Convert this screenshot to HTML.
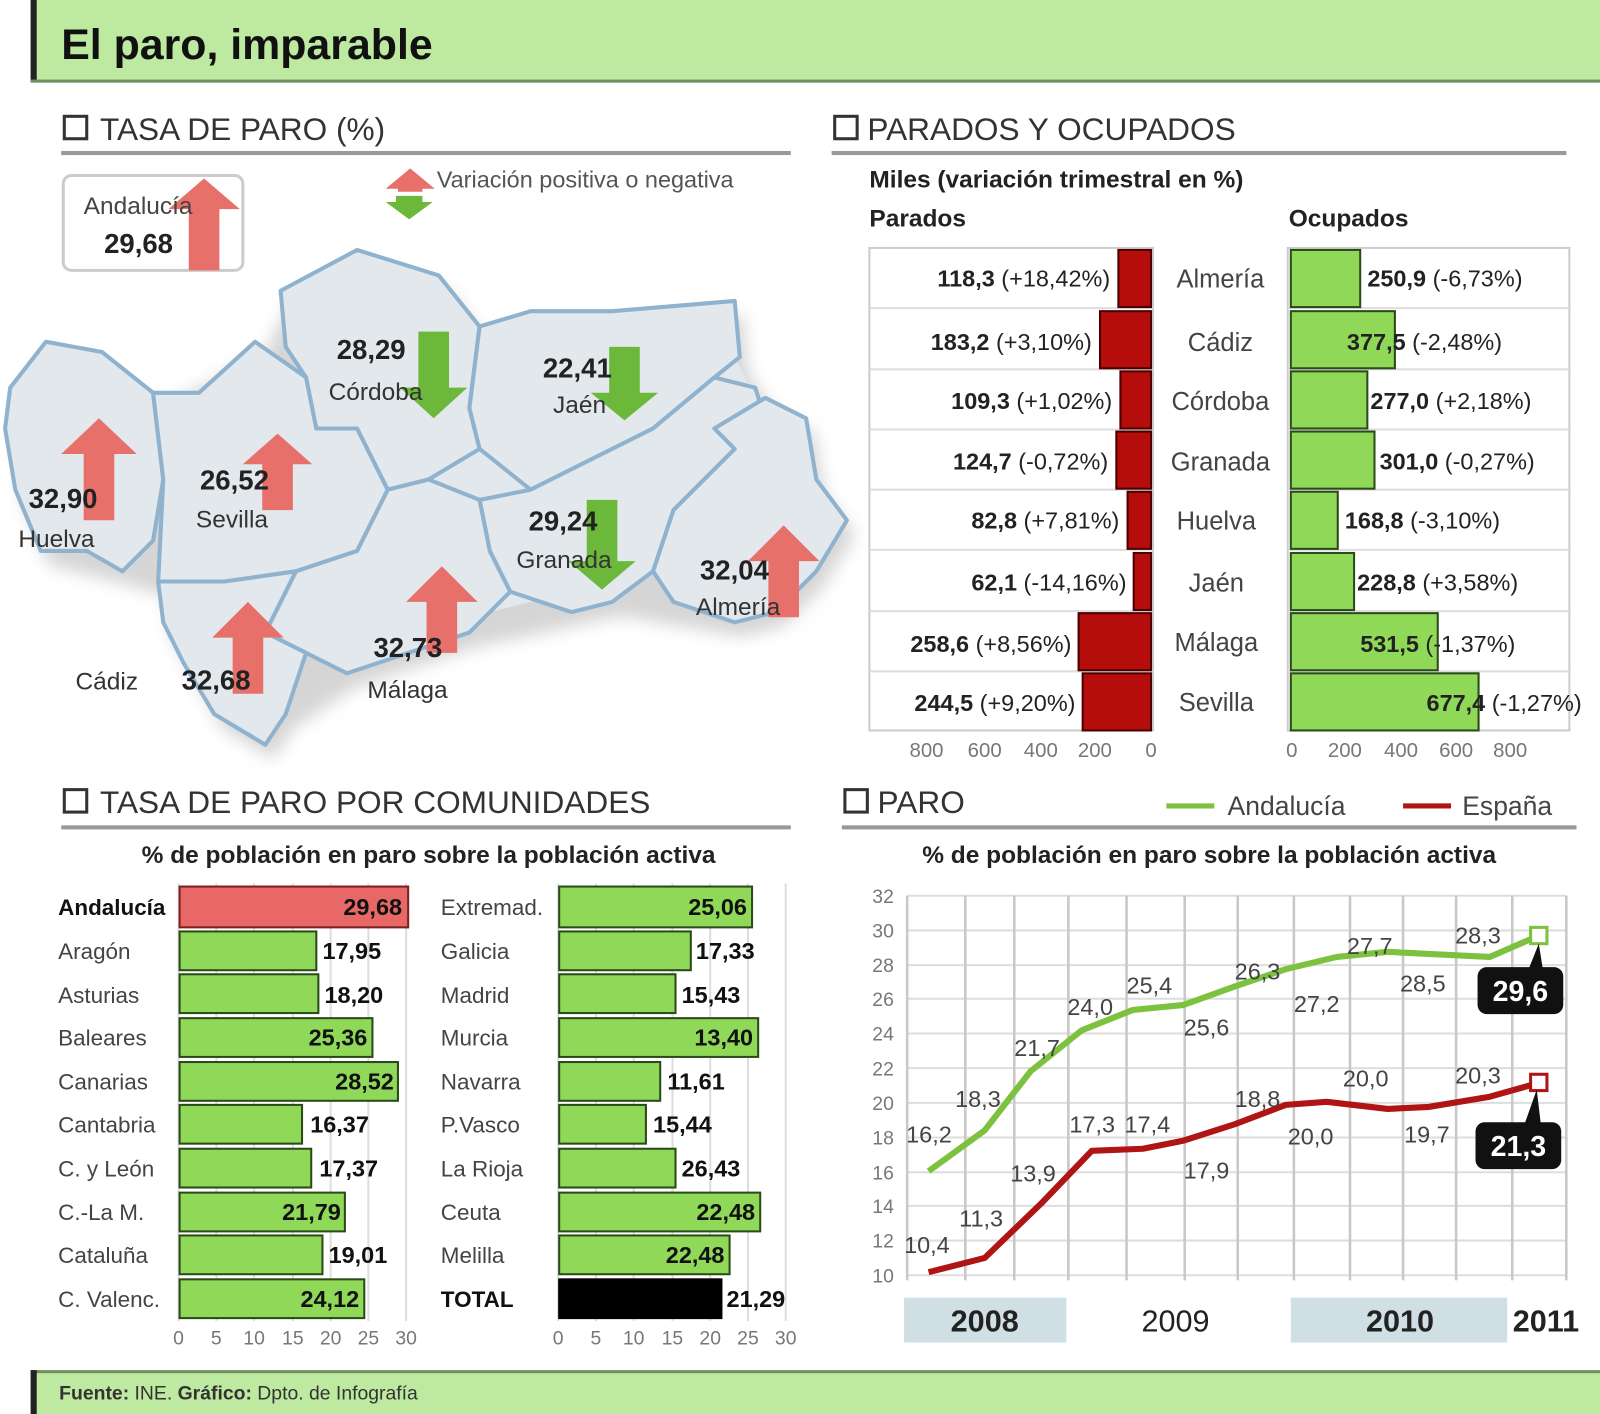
<!DOCTYPE html>
<html><head><meta charset="utf-8"><style>
html,body{margin:0;padding:0;background:#fff;}
svg{display:block;}
text{font-family:"Liberation Sans",sans-serif;}
</style></head><body>
<svg width="1600" height="1414" viewBox="0 0 1568 1386" preserveAspectRatio="none">
<defs>
<filter id="sh"><feGaussianBlur stdDeviation="8"/></filter>
</defs>
<rect x="30" y="0" width="1538" height="80" fill="#bde9a0"/>
<rect x="30" y="0" width="6" height="80" fill="#222"/>
<rect x="30" y="78" width="1538" height="3" fill="#6f8f60"/>
<text x="60" y="58" font-size="42" font-weight="bold" fill="#111">El paro, imparable</text>

<g font-size="31" fill="#333">
<rect x="63" y="114" width="22" height="22" fill="none" stroke="#333" stroke-width="3"/>
<text x="98" y="137">TASA DE PARO (%)</text>
<rect x="818" y="114" width="22" height="22" fill="none" stroke="#333" stroke-width="3"/>
<text x="850" y="137">PARADOS Y OCUPADOS</text>
<rect x="63" y="774" width="22" height="22" fill="none" stroke="#333" stroke-width="3"/>
<text x="98" y="797">TASA DE PARO POR COMUNIDADES</text>
<rect x="828" y="774" width="22" height="22" fill="none" stroke="#333" stroke-width="3"/>
<text x="860" y="797">PARO</text>
</g>
<g fill="#999">
<rect x="60" y="148" width="715" height="4"/>
<rect x="815" y="148" width="720" height="4"/>
<rect x="60" y="809" width="715" height="4"/>
<rect x="825" y="809" width="720" height="4"/>
</g>

<g transform="translate(8,14)" opacity="0.35" filter="url(#sh)"><polygon points="10,380 45,335 150,385 250,335 275,285 350,245 430,270 470,320 600,305 720,295 725,350 750,390 790,410 800,470 830,510 800,560 760,600 720,610 600,590 460,620 340,660 280,700 260,730 210,700 160,610 155,570 120,560 40,540 15,480" fill="#888"/></g>
<polygon points="160,400 300,370 460,320 720,350 740,390 800,470 640,560 480,600 300,640 160,570" fill="#e2e8ec"/>
<g fill="#e2e8ec" stroke="#8fb3cf" stroke-width="4" stroke-linejoin="round">
<polygon points="10,380 45,335 100,345 150,385 160,470 150,530 120,560 85,540 40,540 15,480 5,420"/>
<polygon points="150,385 195,385 250,335 300,370 310,420 350,420 380,480 350,540 290,560 220,570 155,570 160,470"/>
<polygon points="275,285 350,245 430,270 470,320 460,400 470,440 420,470 380,480 350,420 310,420 300,370 280,340"/>
<polygon points="470,320 520,305 600,305 720,295 725,350 700,370 640,420 580,450 520,480 470,440 460,400"/>
<polygon points="470,490 520,480 580,450 640,420 700,370 740,380 750,410 720,440 660,500 640,560 600,590 560,600 500,580 480,540"/>
<polygon points="700,420 750,390 790,410 800,470 830,510 800,560 760,600 720,610 660,590 640,560 660,500 720,440"/>
<polygon points="290,560 350,540 380,480 420,470 470,490 480,540 500,580 460,620 400,640 340,660 300,640 260,620"/>
<polygon points="155,570 220,570 290,560 260,620 300,640 280,700 260,730 210,700 180,650 160,610"/>
</g>

<rect x="62" y="172" width="176" height="93" rx="8" fill="#fff" stroke="#ccc" stroke-width="3"/>

<g fill="#e8706a">
<polygon points="185,265 185,205 165,205 200,175 235,205 215,205 215,265"/>
<polygon points="82,510 82,445 60,445 97,410 134,445 112,445 112,510"/>
<polygon points="257,500 257,455 238,455 272,425 306,455 287,455 287,500"/>
<polygon points="753,605 753,550 733,550 768,515 803,550 783,550 783,605"/>
<polygon points="418,640 418,590 398,590 433,555 468,590 448,590 448,640"/>
<polygon points="228,680 228,625 208,625 243,590 278,625 258,625 258,680"/>
<polygon points="390,188 390,185 378,185 402,165 426,185 414,185 414,188"/>
</g>
<g fill="#6cb83a">
<polygon points="410,325 440,325 440,380 458,380 425,410 392,380 410,380"/>
<polygon points="597,340 627,340 627,385 645,385 612,412 579,385 597,385"/>
<polygon points="575,490 605,490 605,550 623,550 590,578 557,550 575,550"/>
<polygon points="388,192 414,192 414,198 424,198 401,215 378,198 388,198"/>
</g>
<g font-size="24" fill="#222">
<text x="428" y="184" font-size="23" fill="#555">Variación positiva o negativa</text>
<text x="82" y="210" fill="#444">Andalucía</text>
<text x="102" y="248" font-weight="bold" font-size="27">29,68</text>
<text x="28" y="498" font-weight="bold" font-size="27">32,90</text>
<text x="18" y="536" fill="#333">Huelva</text>
<text x="196" y="480" font-weight="bold" font-size="27">26,52</text>
<text x="192" y="517" fill="#333">Sevilla</text>
<text x="330" y="352" font-weight="bold" font-size="27">28,29</text>
<text x="322" y="392" fill="#333">Córdoba</text>
<text x="532" y="370" font-weight="bold" font-size="27">22,41</text>
<text x="542" y="405" fill="#333">Jaén</text>
<text x="518" y="520" font-weight="bold" font-size="27">29,24</text>
<text x="506" y="557" fill="#333">Granada</text>
<text x="686" y="568" font-weight="bold" font-size="27">32,04</text>
<text x="682" y="603" fill="#333">Almería</text>
<text x="366" y="644" font-weight="bold" font-size="27">32,73</text>
<text x="360" y="684" fill="#333">Málaga</text>
<text x="178" y="676" font-weight="bold" font-size="27">32,68</text>
<text x="74" y="676" fill="#333">Cádiz</text>
</g>

<text x="852" y="184" font-size="24" font-weight="bold" fill="#222">Miles (variación trimestral en %)</text>
<text x="852" y="222" font-size="24" font-weight="bold" fill="#222">Parados</text>
<text x="1263" y="222" font-size="24" font-weight="bold" fill="#222">Ocupados</text>
<rect x="852" y="243" width="278" height="473" fill="#fff" stroke="#ccc" stroke-width="2"/>
<rect x="1262" y="243" width="276" height="473" fill="#fff" stroke="#ccc" stroke-width="2"/>
<g stroke="#ddd" stroke-width="2">
<line x1="852" y1="302" x2="1130" y2="302"/><line x1="852" y1="362" x2="1130" y2="362"/><line x1="852" y1="421" x2="1130" y2="421"/><line x1="852" y1="480" x2="1130" y2="480"/><line x1="852" y1="539" x2="1130" y2="539"/><line x1="852" y1="599" x2="1130" y2="599"/><line x1="852" y1="658" x2="1130" y2="658"/>
<line x1="1262" y1="302" x2="1538" y2="302"/><line x1="1262" y1="362" x2="1538" y2="362"/><line x1="1262" y1="421" x2="1538" y2="421"/><line x1="1262" y1="480" x2="1538" y2="480"/><line x1="1262" y1="539" x2="1538" y2="539"/><line x1="1262" y1="599" x2="1538" y2="599"/><line x1="1262" y1="658" x2="1538" y2="658"/>
</g>
<g fill="#b50c0c" stroke="#4a0000" stroke-width="2">
<rect x="1096" y="245" width="32" height="56"/>
<rect x="1078" y="305" width="50" height="56"/>
<rect x="1098" y="364" width="30" height="56"/>
<rect x="1094" y="423" width="34" height="56"/>
<rect x="1105" y="482" width="23" height="56"/>
<rect x="1111" y="542" width="17" height="56"/>
<rect x="1057" y="601" width="71" height="56"/>
<rect x="1061" y="660" width="67" height="56"/>
</g>
<g fill="#8fd858" stroke="#2b4a1a" stroke-width="2">
<rect x="1265" y="245" width="68" height="56"/>
<rect x="1265" y="305" width="102" height="56"/>
<rect x="1265" y="364" width="75" height="56"/>
<rect x="1265" y="423" width="82" height="56"/>
<rect x="1265" y="482" width="46" height="56"/>
<rect x="1265" y="542" width="62" height="56"/>
<rect x="1265" y="601" width="144" height="56"/>
<rect x="1265" y="660" width="184" height="56"/>
</g>
<g font-size="23" fill="#222" text-anchor="end">
<text x="1088" y="281"><tspan font-weight="bold">118,3</tspan> (+18,42%)</text>
<text x="1070" y="343"><tspan font-weight="bold">183,2</tspan> (+3,10%)</text>
<text x="1090" y="401"><tspan font-weight="bold">109,3</tspan> (+1,02%)</text>
<text x="1086" y="460"><tspan font-weight="bold">124,7</tspan> (-0,72%)</text>
<text x="1097" y="518"><tspan font-weight="bold">82,8</tspan> (+7,81%)</text>
<text x="1104" y="579"><tspan font-weight="bold">62,1</tspan> (-14,16%)</text>
<text x="1050" y="639"><tspan font-weight="bold">258,6</tspan> (+8,56%)</text>
<text x="1054" y="697"><tspan font-weight="bold">244,5</tspan> (+9,20%)</text>
</g>
<g font-size="25" fill="#444" text-anchor="middle">
<text x="1196" y="282">Almería</text><text x="1196" y="344">Cádiz</text><text x="1196" y="402">Córdoba</text><text x="1196" y="461">Granada</text><text x="1192" y="519">Huelva</text><text x="1192" y="580">Jaén</text><text x="1192" y="638">Málaga</text><text x="1192" y="697">Sevilla</text>
</g>
<g font-size="23" fill="#222">
<text x="1340" y="281"><tspan font-weight="bold">250,9</tspan> (-6,73%)</text>
<text x="1320" y="343"><tspan font-weight="bold">377,5</tspan> (-2,48%)</text>
<text x="1343" y="401"><tspan font-weight="bold">277,0</tspan> (+2,18%)</text>
<text x="1352" y="460"><tspan font-weight="bold">301,0</tspan> (-0,27%)</text>
<text x="1318" y="518"><tspan font-weight="bold">168,8</tspan> (-3,10%)</text>
<text x="1330" y="579"><tspan font-weight="bold">228,8</tspan> (+3,58%)</text>
<text x="1333" y="639"><tspan font-weight="bold">531,5</tspan> (-1,37%)</text>
<text x="1398" y="697"><tspan font-weight="bold">677,4</tspan> (-1,27%)</text>
</g>
<g font-size="20" fill="#777" text-anchor="middle">
<text x="908" y="742">800</text><text x="965" y="742">600</text><text x="1020" y="742">400</text><text x="1073" y="742">200</text><text x="1128" y="742">0</text>
<text x="1266" y="742">0</text><text x="1318" y="742">200</text><text x="1373" y="742">400</text><text x="1427" y="742">600</text><text x="1480" y="742">800</text>
</g>

<text x="420" y="846" font-size="24" font-weight="bold" fill="#222" text-anchor="middle">% de población en paro sobre la población activa</text>
<g stroke="#ddd" stroke-width="2">
<line x1="175" y1="866" x2="175" y2="1295"/><line x1="212" y1="866" x2="212" y2="1295"/><line x1="249" y1="866" x2="249" y2="1295"/><line x1="287" y1="866" x2="287" y2="1295"/><line x1="324" y1="866" x2="324" y2="1295"/><line x1="361" y1="866" x2="361" y2="1295"/><line x1="398" y1="866" x2="398" y2="1295"/>
<line x1="547" y1="866" x2="547" y2="1295"/><line x1="584" y1="866" x2="584" y2="1295"/><line x1="621" y1="866" x2="621" y2="1295"/><line x1="659" y1="866" x2="659" y2="1295"/><line x1="696" y1="866" x2="696" y2="1295"/><line x1="733" y1="866" x2="733" y2="1295"/><line x1="770" y1="866" x2="770" y2="1295"/>
</g>
<g stroke="#2b4a1a" stroke-width="2" fill="#8fd858">
<rect x="176" y="869" width="224" height="40" fill="#e86868" stroke="#7a2020"/>
<rect x="176" y="913" width="134" height="38"/>
<rect x="176" y="955" width="136" height="38"/>
<rect x="176" y="998" width="189" height="38"/>
<rect x="176" y="1041" width="214" height="38"/>
<rect x="176" y="1083" width="120" height="38"/>
<rect x="176" y="1126" width="129" height="38"/>
<rect x="176" y="1169" width="162" height="38"/>
<rect x="176" y="1211" width="140" height="38"/>
<rect x="176" y="1254" width="181" height="38"/>
<rect x="548" y="869" width="189" height="40"/>
<rect x="548" y="913" width="129" height="38"/>
<rect x="548" y="955" width="114" height="38"/>
<rect x="548" y="998" width="195" height="38"/>
<rect x="548" y="1041" width="99" height="38"/>
<rect x="548" y="1083" width="85" height="38"/>
<rect x="548" y="1126" width="114" height="38"/>
<rect x="548" y="1169" width="197" height="38"/>
<rect x="548" y="1211" width="167" height="38"/>
<rect x="548" y="1254" width="159" height="38" fill="#000" stroke="#000"/>
</g>
<g font-size="22" fill="#444">
<text x="57" y="897" font-weight="bold" fill="#111">Andalucía</text>
<text x="57" y="940">Aragón</text><text x="57" y="983">Asturias</text><text x="57" y="1025">Baleares</text><text x="57" y="1068">Canarias</text><text x="57" y="1110">Cantabria</text><text x="57" y="1153">C. y León</text><text x="57" y="1196">C.-La M.</text><text x="57" y="1238">Cataluña</text><text x="57" y="1281">C. Valenc.</text>
<text x="432" y="897">Extremad.</text><text x="432" y="940">Galicia</text><text x="432" y="983">Madrid</text><text x="432" y="1025">Murcia</text><text x="432" y="1068">Navarra</text><text x="432" y="1110">P.Vasco</text><text x="432" y="1153">La Rioja</text><text x="432" y="1196">Ceuta</text><text x="432" y="1238">Melilla</text><text x="432" y="1281" font-weight="bold" fill="#111">TOTAL</text>
</g>
<g font-size="23" font-weight="bold" fill="#111">
<text x="394" y="897" text-anchor="end">29,68</text>
<text x="316" y="940">17,95</text><text x="318" y="983">18,20</text>
<text x="360" y="1025" text-anchor="end">25,36</text><text x="386" y="1068" text-anchor="end">28,52</text>
<text x="304" y="1110">16,37</text><text x="313" y="1153">17,37</text>
<text x="334" y="1196" text-anchor="end">21,79</text><text x="322" y="1238">19,01</text><text x="352" y="1281" text-anchor="end">24,12</text>
<text x="732" y="897" text-anchor="end">25,06</text><text x="682" y="940">17,33</text><text x="668" y="983">15,43</text>
<text x="738" y="1025" text-anchor="end">13,40</text><text x="654" y="1068">11,61</text><text x="640" y="1110">15,44</text>
<text x="668" y="1153">26,43</text><text x="740" y="1196" text-anchor="end">22,48</text><text x="710" y="1238" text-anchor="end">22,48</text><text x="712" y="1281">21,29</text>
</g>
<g font-size="19" fill="#777" text-anchor="middle">
<text x="175" y="1318">0</text><text x="212" y="1318">5</text><text x="249" y="1318">10</text><text x="287" y="1318">15</text><text x="324" y="1318">20</text><text x="361" y="1318">25</text><text x="398" y="1318">30</text>
<text x="547" y="1318">0</text><text x="584" y="1318">5</text><text x="621" y="1318">10</text><text x="659" y="1318">15</text><text x="696" y="1318">20</text><text x="733" y="1318">25</text><text x="770" y="1318">30</text>
</g>

<line x1="1143" y1="790" x2="1190" y2="790" stroke="#7cc23e" stroke-width="5"/>
<text x="1203" y="799" font-size="26" fill="#444">Andalucía</text>
<line x1="1375" y1="790" x2="1422" y2="790" stroke="#b01515" stroke-width="5"/>
<text x="1433" y="799" font-size="26" fill="#444">España</text>
<text x="1185" y="846" font-size="24" font-weight="bold" fill="#222" text-anchor="middle">% de población en paro sobre la población activa</text>
<g stroke="#ddd" stroke-width="2">
<line x1="889" y1="878" x2="1535" y2="878"/><line x1="889" y1="912" x2="1535" y2="912"/><line x1="889" y1="946" x2="1535" y2="946"/><line x1="889" y1="979" x2="1535" y2="979"/><line x1="889" y1="1013" x2="1535" y2="1013"/><line x1="889" y1="1047" x2="1535" y2="1047"/><line x1="889" y1="1081" x2="1535" y2="1081"/><line x1="889" y1="1115" x2="1535" y2="1115"/><line x1="889" y1="1149" x2="1535" y2="1149"/><line x1="889" y1="1182" x2="1535" y2="1182"/><line x1="889" y1="1216" x2="1535" y2="1216"/><line x1="889" y1="1250" x2="1535" y2="1250"/>
</g>
<g stroke="#c8c8c8" stroke-width="2.5">
<line x1="889" y1="878" x2="889" y2="1255"/><line x1="946" y1="878" x2="946" y2="1255"/><line x1="994" y1="878" x2="994" y2="1255"/><line x1="1047" y1="878" x2="1047" y2="1255"/><line x1="1104" y1="878" x2="1104" y2="1255"/><line x1="1161" y1="878" x2="1161" y2="1255"/><line x1="1213" y1="878" x2="1213" y2="1255"/><line x1="1268" y1="878" x2="1268" y2="1255"/><line x1="1323" y1="878" x2="1323" y2="1255"/><line x1="1375" y1="878" x2="1375" y2="1255"/><line x1="1427" y1="878" x2="1427" y2="1255"/><line x1="1482" y1="878" x2="1482" y2="1255"/><line x1="1535" y1="878" x2="1535" y2="1255"/>
</g>
<g font-size="19" fill="#777" text-anchor="end">
<text x="876" y="885">32</text><text x="876" y="919">30</text><text x="876" y="953">28</text><text x="876" y="986">26</text><text x="876" y="1020">24</text><text x="876" y="1054">22</text><text x="876" y="1088">20</text><text x="876" y="1122">18</text><text x="876" y="1156">16</text><text x="876" y="1189">14</text><text x="876" y="1223">12</text><text x="876" y="1257">10</text>
</g>
<polyline fill="none" stroke="#7cc23e" stroke-width="6" stroke-linejoin="round" points="910,1148 965,1108 1010,1050 1060,1010 1110,990 1160,985 1210,967 1260,950 1310,938 1360,933 1400,935 1460,938 1506,918"/>
<polyline fill="none" stroke="#b01515" stroke-width="6" stroke-linejoin="round" points="910,1247 965,1233 1020,1180 1070,1128 1120,1126 1160,1118 1210,1102 1260,1083 1300,1080 1360,1087 1400,1085 1460,1075 1506,1062"/>
<rect x="1500" y="909" width="16" height="16" fill="#fff" stroke="#7cc23e" stroke-width="3"/>
<rect x="1500" y="1053" width="16" height="16" fill="#fff" stroke="#b01515" stroke-width="3"/>
<g font-size="23" fill="#444">
<text x="888" y="1120">16,2</text><text x="936" y="1085">18,3</text><text x="994" y="1035">21,7</text><text x="1046" y="995">24,0</text><text x="1104" y="974">25,4</text><text x="1160" y="1015">25,6</text><text x="1210" y="960">26,3</text><text x="1268" y="992">27,2</text><text x="1320" y="935">27,7</text><text x="1372" y="972">28,5</text><text x="1426" y="925">28,3</text>
<text x="886" y="1228">10,4</text><text x="940" y="1202">11,3</text><text x="990" y="1158">13,9</text><text x="1048" y="1110">17,3</text><text x="1102" y="1110">17,4</text><text x="1160" y="1155">17,9</text><text x="1210" y="1085">18,8</text><text x="1262" y="1122">20,0</text><text x="1316" y="1065">20,0</text><text x="1376" y="1120">19,7</text><text x="1426" y="1062">20,3</text>
</g>
<g fill="#111">
<rect x="1448" y="948" width="84" height="46" rx="9"/>
<polygon points="1498,950 1508,925 1512,950"/>
<rect x="1446" y="1100" width="84" height="46" rx="9"/>
<polygon points="1494,1102 1506,1068 1510,1102"/>
</g>
<text x="1490" y="981" font-size="28" font-weight="bold" fill="#fff" text-anchor="middle">29,6</text>
<text x="1488" y="1133" font-size="28" font-weight="bold" fill="#fff" text-anchor="middle">21,3</text>
<rect x="886" y="1272" width="159" height="44" fill="#cfdfe3"/>
<rect x="1265" y="1272" width="212" height="44" fill="#cfdfe3"/>
<g font-size="30" fill="#222" text-anchor="middle">
<text x="965" y="1305" font-weight="bold">2008</text>
<text x="1152" y="1305">2009</text>
<text x="1372" y="1305" font-weight="bold">2010</text>
<text x="1515" y="1305" font-weight="bold">2011</text>
</g>

<rect x="30" y="1343" width="1538" height="43" fill="#bde9a0"/>
<rect x="30" y="1343" width="1538" height="3" fill="#6f8f60"/>
<rect x="30" y="1343" width="6" height="43" fill="#222"/>
<text x="58" y="1372" font-size="19" fill="#333"><tspan font-weight="bold">Fuente:</tspan> INE. <tspan font-weight="bold">Gráfico:</tspan> Dpto. de Infografía</text>
</svg>
</body></html>
